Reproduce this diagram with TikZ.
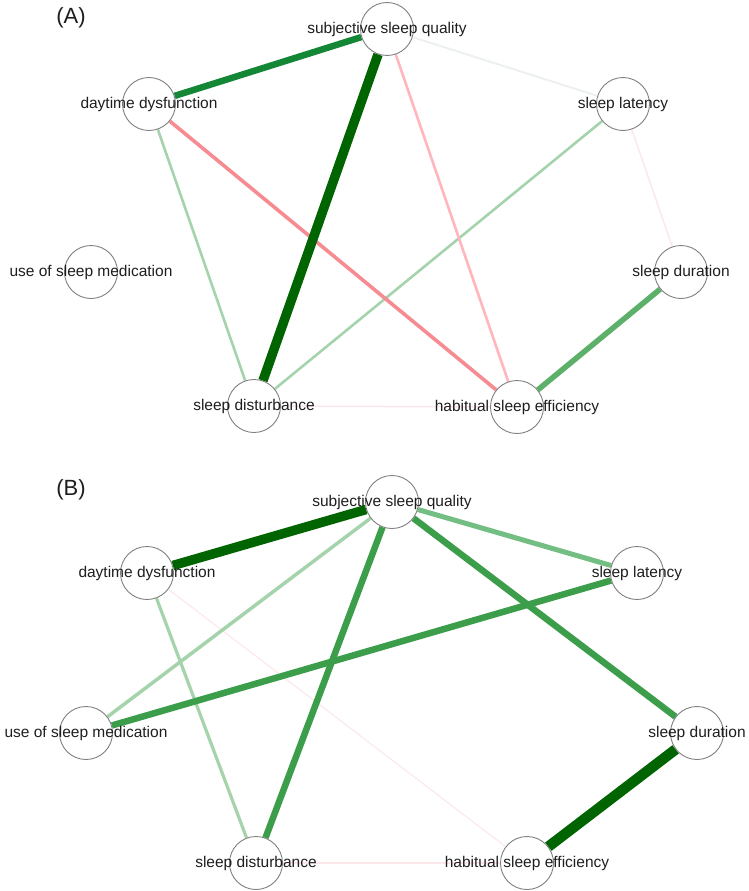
\documentclass[tikz,border=0pt]{standalone}
\usepackage{fontspec}
\setmainfont{Liberation Sans}
\pgfdeclarelayer{bg}
\pgfdeclarelayer{paper}
\pgfsetlayers{paper,bg,main}
\definecolor{dkg}{RGB}{0,100,0}
\definecolor{mdg}{RGB}{20,135,55}
\definecolor{mg}{RGB}{60,158,75}
\definecolor{mlg}{RGB}{115,190,130}
\definecolor{lg}{RGB}{165,212,172}
\definecolor{pk}{RGB}{255,182,188}
\definecolor{pkd}{RGB}{246,140,146}
\definecolor{fpk}{RGB}{252,232,235}
\definecolor{fgr}{RGB}{236,241,238}
\definecolor{sdg}{RGB}{92,176,106}
\definecolor{txt}{RGB}{30,30,30}
\tikzset{
  vert/.style={circle, draw=black!50, line width=0.9pt, fill=white, minimum size=53pt, inner sep=0pt},
  labtext/.style={text=txt, font=\fontsize{15.5}{18}\selectfont, inner sep=0pt},
  panel/.style={text=txt, font=\fontsize{22}{26}\selectfont},
  edge/.style={line cap=butt}
}
\begin{document}
\begin{tikzpicture}[x=1pt,y=-1pt]
\begin{pgfonlayer}{paper}
\fill[white] (0,0) rectangle (749,891);
\end{pgfonlayer}
\useasboundingbox (0,0) rectangle (749,891);
% Panel A
\node[panel] (pa) at (71,18) {(A)};
\node[vert, label={[labtext]center:subjective sleep quality}] (asq) at (387,29) {};
\node[vert, label={[labtext]center:daytime dysfunction}] (add) at (149,104) {};
\node[vert, label={[labtext]center:sleep latency}] (asl) at (623,104) {};
\node[vert, label={[labtext]center:use of sleep medication}] (aum) at (91,272) {};
\node[vert, label={[labtext]center:sleep duration}] (asd) at (681,272) {};
\node[vert, label={[labtext]center:sleep disturbance}] (adi) at (254,406) {};
\node[vert, label={[labtext]center:habitual sleep efficiency}] (ahe) at (517,407) {};
\begin{pgfonlayer}{bg}
\draw[edge, fgr, line width=2pt] (asq) -- (asl);
\draw[edge, fpk, line width=1.5pt] (asl) -- (asd);
\draw[edge, fpk, line width=1.5pt] (adi) -- (ahe);
\draw[edge, lg, line width=2.6pt] (add) -- (adi);
\draw[edge, lg, line width=2.6pt] (asl) -- (adi);
\draw[edge, pk, line width=2.6pt] (asq) -- (ahe);
\draw[edge, pkd, line width=3.6pt] (add) -- (ahe);
\draw[edge, sdg, line width=5.5pt] (asd) -- (ahe);
\draw[edge, mdg, line width=6.5pt] (asq) -- (add);
\draw[edge, dkg, line width=9.5pt] (asq) -- (adi);
\end{pgfonlayer}
% Panel B
\node[panel] (pb) at (71,490) {(B)};
\node[vert, label={[labtext]center:subjective sleep quality}] (bsq) at (392,502) {};
\node[vert, label={[labtext]center:daytime dysfunction}] (bdd) at (147,573) {};
\node[vert, label={[labtext]center:sleep latency}] (bsl) at (637,573) {};
\node[vert, label={[labtext]center:use of sleep medication}] (bum) at (86,733) {};
\node[vert, label={[labtext]center:sleep duration}] (bsd) at (697,733) {};
\node[vert, label={[labtext]center:sleep disturbance}] (bdi) at (256,863) {};
\node[vert, label={[labtext]center:habitual sleep efficiency}] (bhe) at (527,863) {};
\begin{pgfonlayer}{bg}
\draw[edge, fpk, line width=1.1pt] (bdd) -- (bhe);
\draw[edge, fpk, line width=1.1pt] (bdi) -- (bhe);
\draw[edge, lg, line width=3.2pt] (bdd) -- (bdi);
\draw[edge, lg, line width=3.5pt] (bsq) -- (bum);
\draw[edge, mlg, line width=5pt] (bsq) -- (bsl);
\draw[edge, mg, line width=6.5pt] (bsq) -- (bdi);
\draw[edge, mg, line width=6.5pt] (bsq) -- (bsd);
\draw[edge, mg, line width=6.5pt] (bsl) -- (bum);
\draw[edge, dkg, line width=9.5pt] (bsq) -- (bdd);
\draw[edge, dkg, line width=10.5pt] (bsd) -- (bhe);
\end{pgfonlayer}
\end{tikzpicture}
\end{document}
